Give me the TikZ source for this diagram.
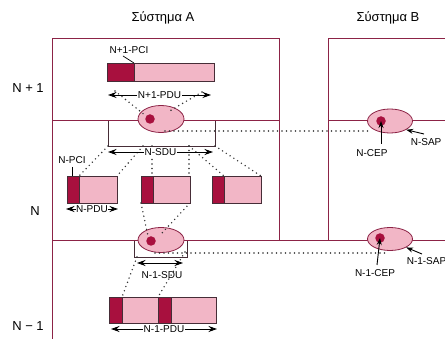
\documentclass[tikz,border=0pt]{standalone}
\usepackage{fontspec}
\setmainfont{Liberation Sans}
\usetikzlibrary{arrows.meta,shapes.geometric}
\definecolor{frame}{RGB}{140,35,70}
\definecolor{pinkfill}{RGB}{242,182,198}
\definecolor{darkred}{RGB}{168,16,62}
\definecolor{boxline}{RGB}{70,45,55}
\tikzset{
 frameline/.style={draw=frame, line width=0.9pt},
 sdubox/.style={draw=boxline, line width=0.7pt, inner sep=0pt, outer sep=0pt, anchor=north west},
 pdu/.style={draw=boxline, line width=0.6pt, fill=pinkfill, inner sep=0pt, outer sep=0pt, anchor=north west},
 pci/.style={draw=boxline, line width=0.6pt, fill=darkred, inner sep=0pt, outer sep=0pt, anchor=north west},
 sap/.style={ellipse, draw=frame, line width=0.8pt, fill=pinkfill, minimum width=46pt, minimum height=26pt, inner sep=0pt},
 cep/.style={circle, fill=darkred, minimum size=9.5pt, inner sep=0pt},
 dots/.style={draw=black!80, dash pattern=on 0pt off 4.5pt, line cap=round, line width=1.6pt},
 dimarrow/.style={{Stealth[length=8.5pt,width=6pt]}-{Stealth[length=8.5pt,width=6pt]}, line width=0.9pt},
 lbl/.style={font=\fontsize{10}{11}\selectfont, inner sep=0.6pt},
 big/.style={font=\fontsize{13}{15}\selectfont, inner sep=0pt},
 ptr/.style={-{Stealth[length=7pt,width=5pt]}, line width=0.9pt},
}
\begin{document}
\begin{tikzpicture}[x=1pt,y=-1pt]
\useasboundingbox (0,0) rectangle (445,339);
\fill[white] (0,0) rectangle (445,339);
% titles and layer labels
\node[big] (tA) at (163,18) {Σύστημα A};
\node[big] (tB) at (388,18) {Σύστημα B};
\node[big] (lN1) at (28,88) {N + 1};
\node[big] (lN) at (35,211) {N};
\node[big] (lNm) at (28,326) {N − 1};
% SDU boxes
\node[sdubox, minimum width=107pt, minimum height=26pt] (sdu) at (108,120) {};
\node[sdubox, minimum width=53pt, minimum height=17pt] (sdu1) at (134,240) {};
% frames
\draw[frameline] (52,339) -- (52,38) -- (279,38) -- (279,240);
\draw[frameline] (52,120) -- (279,120);
\draw[frameline] (52,240) -- (445,240);
\draw[frameline] (445,38) -- (328,38) -- (328,240);
\draw[frameline] (328,120) -- (445,120);
% SAP ellipses and CEPs
\node[sap, minimum height=27pt] (sapA) at (161,119) {};
\node[cep] (cepA) at (150,119) {};
\node[sap, minimum height=25pt] (sapA1) at (161,240) {};
\node[cep] (cepA1) at (151,241) {};
\node[sap, minimum width=45pt, minimum height=24pt] (sapB) at (390,121) {};
\node[cep] (cepB) at (381,121) {};
\node[sap, minimum width=45pt, minimum height=23pt] (sapB1) at (390,239) {};
\node[cep] (cepB1) at (380,238) {};
% dotted projections
\draw[dots] (115,91) -- (146,116);
\draw[dots] (202,92) -- (168,112);
\draw[dots] (sdu.south west) -- (79,176);
\draw[dots] (143,146) -- (117,176);
\draw[dots] (152,146) -- (152,176);
\draw[dots] (189,146) -- (189,176);
\draw[dots] (189,146) -- (224,176);
\draw[dots] (sdu.south east) -- (261,176);
\draw[dots] (141,203) -- (148,236);
\draw[dots] (190,203) -- (162,233);
\draw[dots] (137,257) -- (122,297);
\draw[dots] (185,252) -- (158,297);
\draw[dots] (165,131) -- (372,131);
\draw[dots] (155,253) -- (386,253);
% PDUs
\node[pdu, minimum width=107pt, minimum height=18pt] (pduN1) at (107,63) {};
\node[pci, minimum width=27pt, minimum height=18pt] (pciN1) at (107,63) {};
\node[pdu, minimum width=50pt, minimum height=27pt] (pdu1) at (67,176) {};
\node[pci, minimum width=12pt, minimum height=27pt] (pci1) at (67,176) {};
\node[pdu, minimum width=49pt, minimum height=27pt] (pdu2) at (141,176) {};
\node[pci, minimum width=12pt, minimum height=27pt] (pci2) at (141,176) {};
\node[pdu, minimum width=49pt, minimum height=27pt] (pdu3) at (212,176) {};
\node[pci, minimum width=12pt, minimum height=27pt] (pci3) at (212,176) {};
\node[pdu, minimum width=107pt, minimum height=26pt] (pduM) at (109,297) {};
\node[pci, minimum width=13pt, minimum height=26pt] (pciM1) at (109,297) {};
\node[pci, minimum width=13pt, minimum height=26pt] (pciM2) at (158,297) {};
% PCI labels
\node[lbl] (lpciN1) at (129,50) {N+1-PCI};
\draw[line width=0.7pt] (123,56) -- (pciN1.north east);
\node[lbl] (lpci) at (72,160) {N-PCI};
\draw[line width=0.7pt] (72,167) -- (72,176);
% dimension arrows
\coordinate (a1) at (108,95); \coordinate (a2) at (211,95);
\draw[dimarrow] (a1) -- (a2) node[midway, lbl, fill=white] (lpduN1) {N+1-PDU};
\coordinate (b1) at (108,152); \coordinate (b2) at (213,152);
\draw[dimarrow] (b1) -- (b2) node[midway, lbl, fill=white] (lsdu) {N-SDU};
\coordinate (c1) at (66,209); \coordinate (c2) at (118,209);
\draw[dimarrow] (c1) -- (c2) node[midway, lbl, fill=white, inner sep=0pt] (lpdu) {N-PDU};
\coordinate (d1) at (137,263); \coordinate (d2) at (183,263);
\draw[dimarrow] (d1) -- (d2);
\node[lbl] (lsdu1) at (162,275) {N-1-SDU};
\coordinate (e1) at (111,329); \coordinate (e2) at (217,329);
\draw[dimarrow] (e1) -- (e2) node[midway, lbl, fill=white] (lpduM) {N-1-PDU};
% System B labels
\node[lbl] (lcep) at (372,153) {N-CEP};
\draw[ptr] (381,144) -- (cepB.center);
\node[lbl, anchor=west] (lsap) at (410,142) {N-SAP};
\draw[ptr] (424,134) -- (sapB.south east);
\node[lbl] (lcep1) at (375,273) {N-1-CEP};
\draw[ptr] (377,265) -- (cepB1.center);
\node[lbl, anchor=west] (lsap1) at (406,261) {N-1-SAP};
\draw[ptr] (422,254) -- (sapB1.south east);
\end{tikzpicture}
\end{document}
